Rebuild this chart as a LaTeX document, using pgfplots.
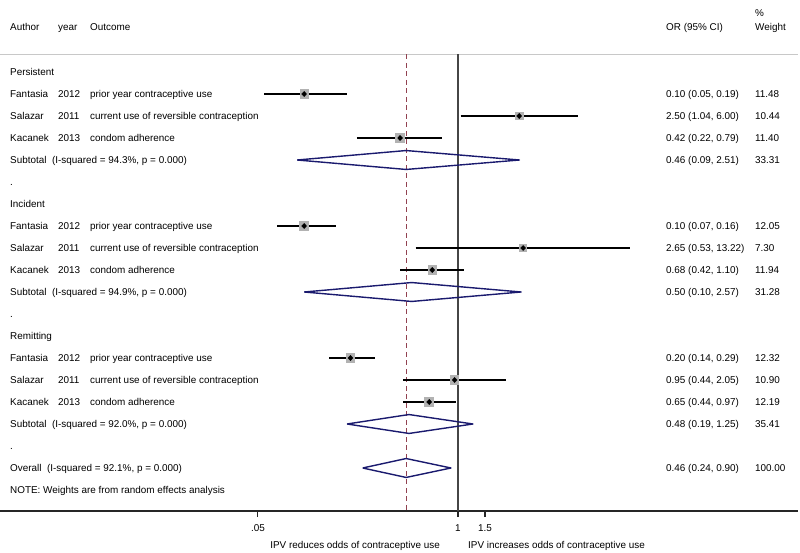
\documentclass[border=0pt]{standalone}
\usepackage{pgfplots}
\pgfplotsset{compat=1.18}
\usepackage{pgfplotstable}
\usepackage{fontspec}
\setmainfont{Liberation Sans}
\definecolor{diamc}{RGB}{26,26,110}
\definecolor{dashc}{RGB}{145,65,80}
\definecolor{nullc}{RGB}{70,70,70}
\definecolor{hdrc}{RGB}{200,200,200}
\definecolor{boxc}{RGB}{178,178,178}

% y = -(row number); Persistent header is row 1
\pgfplotstableread{
y    or    lo     hi     w
-2   0.10  0.055  0.19   11.48
-3   2.50  1.04   6.00   10.44
-4   0.42  0.22   0.79   11.40
-8   0.10  0.067  0.16   12.05
-9   2.65  0.53   13.22  7.30
-10  0.68  0.42   1.10   11.94
-14  0.20  0.145  0.29   12.32
-15  0.95  0.44   2.05   10.90
-16  0.65  0.44   0.97   12.19
}\studies

\begin{document}
\begin{tikzpicture}[
  txt/.style={font=\fontsize{9.9}{12}\selectfont, text height=7.1pt, text depth=0pt, inner sep=0pt, anchor=west},
  c1/.style={txt, xshift=-448pt},
  c2/.style={txt, xshift=-400pt},
  c3/.style={txt, xshift=-368pt},
  c4/.style={txt, xshift=208pt},
  c5/.style={txt, xshift=297pt},
  ci/.style={black, line width=1.4pt},
  diam/.style={diamc, line width=1.4pt, line join=round},
]
\begin{axis}[
  scale only axis, width=798pt, height=511pt,
  xmode=log, xmin=0.0010528, xmax=162.36,
  ymin=-20.955, ymax=2.273,
  axis x line*=bottom, axis y line=none,
  x axis line style={-, line width=1.2pt, black!85},
  xtick={0.05,1,1.5}, xticklabels={.05,1,1.5},
  xminorticks=false,
  xtick align=outside, major tick length=6pt,
  every tick/.style={line width=1.2pt, black!85},
  xticklabel style={font=\fontsize{9.9}{12}\selectfont, yshift=-4pt},
  clip=false,
]
% header rule
\addplot[hdrc, line width=1pt] coordinates {(0.0010528,-0.195) (162.36,-0.195)};
% reference lines
\addplot[nullc, line width=1.5pt] coordinates {(1,-0.195) (1,-20.955)};
\addplot[dashc, line width=1.2pt, dash pattern=on 5pt off 3.5pt] coordinates {(0.46,-0.195) (0.46,-20.955)};
% confidence intervals
\addplot[ci] coordinates {(0.055,-2) (0.19,-2)};
\addplot[ci] coordinates {(1.04,-3) (6.00,-3)};
\addplot[ci] coordinates {(0.22,-4) (0.79,-4)};
\addplot[ci] coordinates {(0.067,-8) (0.16,-8)};
\addplot[ci] coordinates {(0.53,-9) (13.22,-9)};
\addplot[ci] coordinates {(0.42,-10) (1.10,-10)};
\addplot[ci] coordinates {(0.145,-14) (0.29,-14)};
\addplot[ci] coordinates {(0.44,-15) (2.05,-15)};
\addplot[ci] coordinates {(0.44,-16) (0.97,-16)};
% weight boxes
\addplot[scatter, only marks, mark=square*, point meta=0,
  mark options={draw=boxc, fill=boxc, line width=0pt},
  scatter/use mapped color={draw=boxc, fill=boxc},
  visualization depends on={1.22*sqrt(\thisrow{w}) \as \msize},
  scatter/@pre marker code/.append style={/tikz/mark size=\msize}]
  table[x=or, y=y] {\studies};
% point estimates
\addplot[only marks, mark=diamond*, mark size=2.6pt, black, mark options={line width=0.3pt, xscale=1.3}] table[x=or, y=y] {\studies};
% pooled diamonds
\addplot[diam] coordinates {(0.09,-5) (0.46,-4.57) (2.51,-5) (0.46,-5.43) (0.09,-5)};
\addplot[diam] coordinates {(0.10,-11) (0.50,-10.57) (2.57,-11) (0.50,-11.43) (0.10,-11)};
\addplot[diam] coordinates {(0.19,-17) (0.48,-16.57) (1.25,-17) (0.48,-17.43) (0.19,-17)};
\addplot[diam] coordinates {(0.24,-19) (0.46,-18.57) (0.90,-19) (0.46,-19.43) (0.24,-19)};

% header text
\node[c5] at (axis cs:1,1.68) {\%};
\node[c1] at (axis cs:1,1.045) {Author};
\node[c2] at (axis cs:1,1.045) {year};
\node[c3] at (axis cs:1,1.045) {Outcome};
\node[c4] at (axis cs:1,1.045) {OR (95\% CI)};
\node[c5] at (axis cs:1,1.045) {Weight};

% Persistent
\node[c1] at (axis cs:1,-1) {Persistent};
\node[c1] at (axis cs:1,-2) {Fantasia};
\node[c2] at (axis cs:1,-2) {2012};
\node[c3] at (axis cs:1,-2) {prior year contraceptive use};
\node[c4] at (axis cs:1,-2) {0.10 (0.05, 0.19)};
\node[c5] at (axis cs:1,-2) {11.48};
\node[c1] at (axis cs:1,-3) {Salazar};
\node[c2] at (axis cs:1,-3) {2011};
\node[c3] at (axis cs:1,-3) {current use of reversible contraception};
\node[c4] at (axis cs:1,-3) {2.50 (1.04, 6.00)};
\node[c5] at (axis cs:1,-3) {10.44};
\node[c1] at (axis cs:1,-4) {Kacanek};
\node[c2] at (axis cs:1,-4) {2013};
\node[c3] at (axis cs:1,-4) {condom adherence};
\node[c4] at (axis cs:1,-4) {0.42 (0.22, 0.79)};
\node[c5] at (axis cs:1,-4) {11.40};
\node[c1] at (axis cs:1,-5) {Subtotal\ \ (I-squared = 94.3\%, p = 0.000)};
\node[c4] at (axis cs:1,-5) {0.46 (0.09, 2.51)};
\node[c5] at (axis cs:1,-5) {33.31};
\node[c1] at (axis cs:1,-6) {.};

% Incident
\node[c1] at (axis cs:1,-7) {Incident};
\node[c1] at (axis cs:1,-8) {Fantasia};
\node[c2] at (axis cs:1,-8) {2012};
\node[c3] at (axis cs:1,-8) {prior year contraceptive use};
\node[c4] at (axis cs:1,-8) {0.10 (0.07, 0.16)};
\node[c5] at (axis cs:1,-8) {12.05};
\node[c1] at (axis cs:1,-9) {Salazar};
\node[c2] at (axis cs:1,-9) {2011};
\node[c3] at (axis cs:1,-9) {current use of reversible contraception};
\node[c4] at (axis cs:1,-9) {2.65 (0.53, 13.22)};
\node[c5] at (axis cs:1,-9) {7.30};
\node[c1] at (axis cs:1,-10) {Kacanek};
\node[c2] at (axis cs:1,-10) {2013};
\node[c3] at (axis cs:1,-10) {condom adherence};
\node[c4] at (axis cs:1,-10) {0.68 (0.42, 1.10)};
\node[c5] at (axis cs:1,-10) {11.94};
\node[c1] at (axis cs:1,-11) {Subtotal\ \ (I-squared = 94.9\%, p = 0.000)};
\node[c4] at (axis cs:1,-11) {0.50 (0.10, 2.57)};
\node[c5] at (axis cs:1,-11) {31.28};
\node[c1] at (axis cs:1,-12) {.};

% Remitting
\node[c1] at (axis cs:1,-13) {Remitting};
\node[c1] at (axis cs:1,-14) {Fantasia};
\node[c2] at (axis cs:1,-14) {2012};
\node[c3] at (axis cs:1,-14) {prior year contraceptive use};
\node[c4] at (axis cs:1,-14) {0.20 (0.14, 0.29)};
\node[c5] at (axis cs:1,-14) {12.32};
\node[c1] at (axis cs:1,-15) {Salazar};
\node[c2] at (axis cs:1,-15) {2011};
\node[c3] at (axis cs:1,-15) {current use of reversible contraception};
\node[c4] at (axis cs:1,-15) {0.95 (0.44, 2.05)};
\node[c5] at (axis cs:1,-15) {10.90};
\node[c1] at (axis cs:1,-16) {Kacanek};
\node[c2] at (axis cs:1,-16) {2013};
\node[c3] at (axis cs:1,-16) {condom adherence};
\node[c4] at (axis cs:1,-16) {0.65 (0.44, 0.97)};
\node[c5] at (axis cs:1,-16) {12.19};
\node[c1] at (axis cs:1,-17) {Subtotal\ \ (I-squared = 92.0\%, p = 0.000)};
\node[c4] at (axis cs:1,-17) {0.48 (0.19, 1.25)};
\node[c5] at (axis cs:1,-17) {35.41};
\node[c1] at (axis cs:1,-18) {.};

\node[c1] at (axis cs:1,-19) {Overall\ \ (I-squared = 92.1\%, p = 0.000)};
\node[c4] at (axis cs:1,-19) {0.46 (0.24, 0.90)};
\node[c5] at (axis cs:1,-19) {100.00};
\node[c1] at (axis cs:1,-20) {NOTE: Weights are from random effects analysis};

% direction labels
\node[txt, anchor=east, xshift=-18pt] at (axis cs:1,-22.5) {IPV reduces odds of contraceptive use};
\node[txt, xshift=10pt] at (axis cs:1,-22.5) {IPV increases odds of contraceptive use};
\end{axis}
\pgfresetboundingbox
\path (0,-41pt) rectangle (800pt,511pt);
\end{tikzpicture}
\end{document}
